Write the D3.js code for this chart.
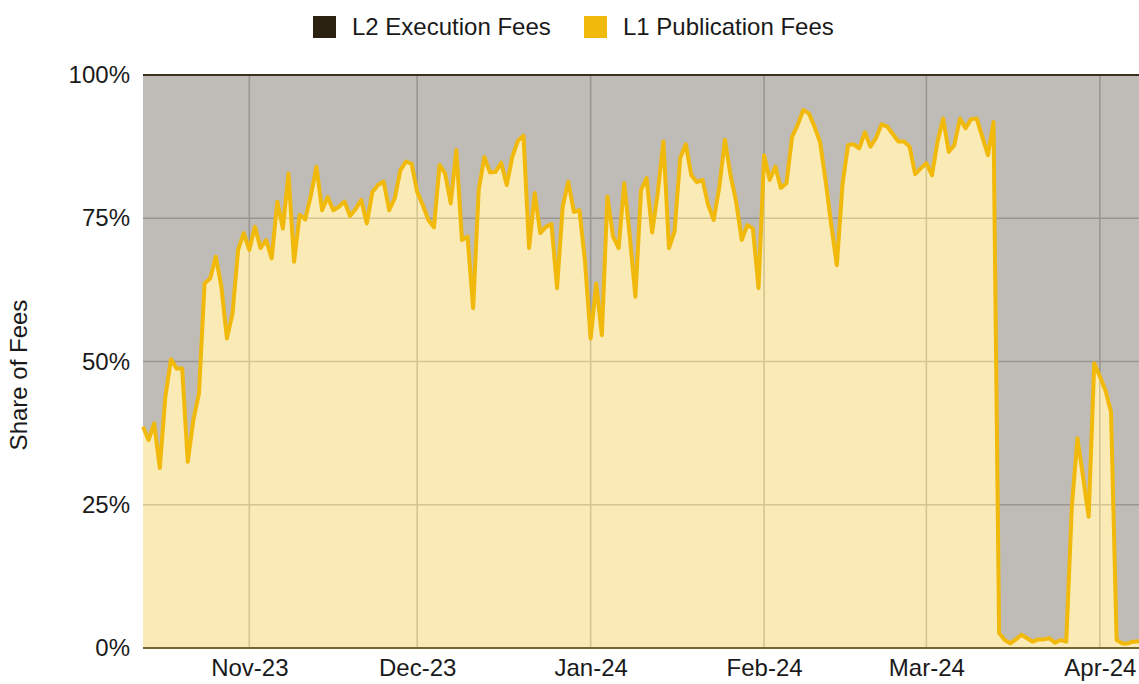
<!DOCTYPE html>
<html>
<head>
<meta charset="utf-8">
<script src="https://cdn.jsdelivr.net/npm/d3@7"></script>
<style>
  html, body { margin: 0; padding: 0; background: #ffffff; }
  svg { display: block; }
  text { font-family: "Liberation Sans", Arial, Helvetica, sans-serif; fill: #1a1a1a; }
</style>
</head>
<body>
<svg id="chart" width="1139" height="684"></svg>
<script>
// ---- data ----
const startDate = "2023-10-13";
const endDate = "2024-04-08";
const seriesNames = ["L2 Execution Fees", "L1 Publication Fees"];
const seriesColors = ["#2b2111", "#f0b90b"];
// L1 Publication Fees share (%) per day, starting at startDate
const l1Share = [
  38.6, 36.3, 39.2, 31.4, 43.9, 50.4, 48.8, 48.8, 32.5, 39.8,
  44.4, 63.6, 64.5, 68.3, 63.1, 54.0, 58.4, 69.5, 72.4, 69.5,
  73.5, 69.8, 71.2, 68.0, 77.9, 73.2, 82.8, 67.4, 75.6, 74.8,
  79.0, 84.0, 76.4, 78.7, 76.4, 77.0, 77.9, 75.4, 76.6, 78.2,
  74.1, 79.6, 80.8, 81.4, 76.4, 78.5, 83.4, 84.9, 84.5, 79.6,
  77.3, 74.7, 73.4, 84.3, 82.8, 77.6, 86.9, 71.2, 71.8, 59.3,
  80.0, 85.7, 83.0, 83.1, 84.7, 80.8, 85.7, 88.5, 89.4, 69.8,
  79.4, 72.4, 73.5, 74.0, 62.8, 77.0, 81.4, 76.1, 76.4, 67.4,
  54.0, 63.6, 54.6, 78.8, 71.8, 69.8, 81.1, 71.8, 61.3, 79.9,
  82.0, 72.5, 79.5, 88.4, 69.8, 72.7, 85.5, 87.9, 82.5, 81.3,
  81.7, 77.3, 74.7, 80.5, 88.7, 82.5, 77.9, 71.2, 73.8, 73.2,
  62.8, 86.0, 81.7, 84.0, 80.3, 81.1, 89.2, 91.3, 93.9, 93.3,
  91.0, 88.3, 81.5, 73.8, 66.8, 80.8, 87.8, 87.9, 87.2, 90.0,
  87.5, 89.0, 91.4, 91.0, 89.7, 88.4, 88.4, 87.5, 82.7, 83.7,
  84.6, 82.5, 88.4, 92.4, 86.6, 87.8, 92.4, 90.7, 92.3, 92.4,
  89.2, 86.0, 91.8, 2.6, 1.4, 0.8, 1.5, 2.3, 1.7, 1.1,
  1.5, 1.5, 1.7, 0.9, 1.4, 1.1, 24.7, 36.6, 29.9, 22.9,
  49.7, 47.4, 45.0, 41.2, 1.4, 0.8, 0.8, 1.1, 1.2
];
const yTicks = [0, 25, 50, 75, 100];
const yTickLabels = ["0%", "25%", "50%", "75%", "100%"];
const xTickDates = ["2023-11-01", "2023-12-01", "2024-01-01", "2024-02-01", "2024-03-01", "2024-04-01"];
const xTickLabels = ["Nov-23", "Dec-23", "Jan-24", "Feb-24", "Mar-24", "Apr-24"];
const yTitle = "Share of Fees";

// ---- build ----
const parse = d3.utcParse("%Y-%m-%d");
const t0 = parse(startDate);
const rows = l1Share.map((v, i) => ({ date: d3.utcDay.offset(t0, i), l1: v, l2: 100 - v }));

const svg = d3.select("#chart");
const margin = { left: 143, right: 0, top: 75, bottom: 36 };
const W = 1139, H = 684;

const x = d3.scaleUtc().domain([t0, parse(endDate)]).range([margin.left, W - margin.right]);
const y = d3.scaleLinear().domain([0, 100]).range([H - margin.bottom, margin.top]);

const stack = d3.stack().keys(["l1", "l2"]);
const stacked = stack(rows);

// gridlines
const grid = svg.append("g");
grid.selectAll("line.h").data(yTicks).join("line")
  .attr("x1", x.range()[0]).attr("x2", x.range()[1])
  .attr("y1", d => y(d)).attr("y2", d => y(d))
  .attr("stroke", "#c9c9c9").attr("stroke-width", 1.6);
grid.selectAll("line.v").data(xTickDates).join("line")
  .attr("x1", d => x(parse(d))).attr("x2", d => x(parse(d)))
  .attr("y1", y(0)).attr("y2", y(100))
  .attr("stroke", "#c9c9c9").attr("stroke-width", 1.6);

// areas
const area = d3.area().x(d => x(d.data.date)).y0(d => y(d[0])).y1(d => y(d[1]));
svg.append("path").datum(stacked[1]).attr("d", area)
  .attr("fill", seriesColors[0]).attr("fill-opacity", 0.3);
svg.append("path").datum(stacked[0]).attr("d", area)
  .attr("fill", seriesColors[1]).attr("fill-opacity", 0.3);

// lines
const line = d3.line().x(d => x(d.data.date)).y(d => y(d[1]));
svg.append("path").datum(stacked[0]).attr("d", line)
  .attr("fill", "none").attr("stroke", seriesColors[1]).attr("stroke-width", 4)
  .attr("stroke-linejoin", "round");
svg.append("path").datum(stacked[1]).attr("d", line)
  .attr("fill", "none").attr("stroke", "#3a3020").attr("stroke-width", 2.2);

// baseline
svg.append("line").attr("x1", x.range()[0]).attr("x2", x.range()[1])
  .attr("y1", y(0)).attr("y2", y(0))
  .attr("stroke", "#75652f").attr("stroke-width", 2.2);

// y axis labels
const yAxis = d3.axisLeft(y).tickValues(yTicks).tickFormat((d, i) => yTickLabels[i]).tickSize(0).tickPadding(13);
const gy = svg.append("g").attr("transform", `translate(${margin.left},0)`).call(yAxis);
gy.select(".domain").remove();
gy.selectAll("text").attr("font-size", 24).attr("font-family", "Liberation Sans, Arial, sans-serif").attr("fill", "#1a1a1a");

// x axis labels
const xAxis = d3.axisBottom(x).tickValues(xTickDates.map(parse)).tickFormat((d, i) => xTickLabels[i]).tickSize(0).tickPadding(11);
const gx = svg.append("g").attr("transform", `translate(0,${y(0)})`).call(xAxis);
gx.select(".domain").remove();
gx.selectAll("text").attr("font-size", 24).attr("font-family", "Liberation Sans, Arial, sans-serif").attr("fill", "#1a1a1a");

// y title
svg.append("text").attr("transform", `translate(27,375) rotate(-90)`)
  .attr("text-anchor", "middle").attr("font-size", 24).text(yTitle);

// legend
const legendX = [313, 584];
const lg = svg.append("g");
seriesNames.forEach((name, i) => {
  lg.append("rect").attr("x", legendX[i]).attr("y", 16).attr("width", 23).attr("height", 22)
    .attr("fill", seriesColors[i]);
  lg.append("text").attr("x", legendX[i] + 39).attr("y", 35).attr("font-size", 24).text(name);
});
</script>
</body>
</html>
